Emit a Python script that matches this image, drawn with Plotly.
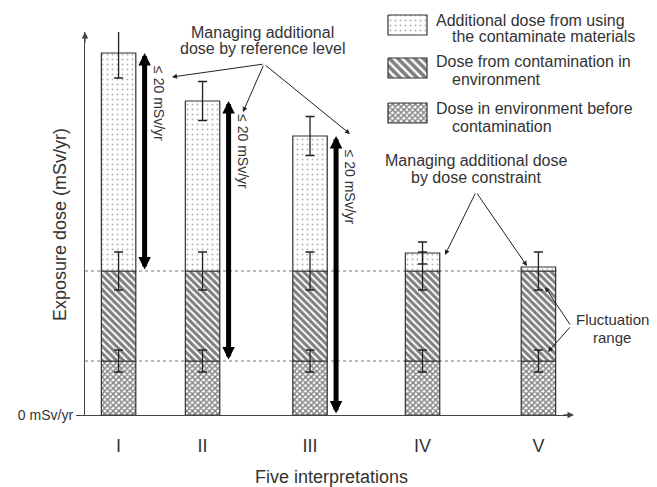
import plotly.graph_objects as go

# ---------------- data ----------------
categories = ["I", "II", "III", "IV", "V"]
x_positions = [0.4, 1.4, 2.68, 4.02, 5.4]
dose_before = [5.4, 5.4, 5.4, 5.4, 5.4]
dose_contamination = [9.0, 9.0, 9.0, 9.0, 9.0]
dose_additional = [21.8, 17.0, 13.5, 1.8, 0.4]
err_before = [1.1, 1.1, 1.1, 1.1, 1.1]
err_contamination = [1.9, 1.9, 1.9, 1.9, 1.9]
err_additional = [2.5, 1.95, 1.95, 1.1, 0]
series_names = [
    "Dose in environment before contamination",
    "Dose from contamination in environment",
    "Additional dose from using the contaminate materials",
]
limit_label = "≤ 20 mSv/yr"

# ---------------- styling ----------------
PAGE_W, PAGE_H = 657, 487
OFF = 8  # default page body margin
W, H = PAGE_W - OFF, PAGE_H - OFF
FONT = "Liberation Sans, Arial, sans-serif"
TXT = "#333333"
EDGE = "#333333"
BAR_W = 0.41

def px(x):
    return (x - OFF) / W

def py(y):
    return 1 - (y - OFF) / H

pat_before = dict(shape="x", fgcolor="#000000", bgcolor="white", size=4, solidity=0.6)
pat_contam = dict(shape="\\", fgcolor="#000000", bgcolor="white", size=5, solidity=0.6)
pat_add = dict(shape=".", fgcolor="#666666", bgcolor="white", size=5, solidity=0.12)
leg_contam = dict(shape="\\", fgcolor="#000000", bgcolor="white", size=6, solidity=0.6)

top_before = dose_before
top_contam = [a + b for a, b in zip(dose_before, dose_contamination)]
top_total = [a + b for a, b in zip(top_contam, dose_additional)]

fig = go.Figure()
for vals, base, pat, name in [
    (dose_before, None, pat_before, series_names[0]),
    (dose_contamination, top_before, pat_contam, series_names[1]),
    (dose_additional, top_contam, pat_add, series_names[2]),
]:
    fig.add_bar(
        x=x_positions, y=vals, base=base, width=BAR_W, name=name, showlegend=False,
        marker=dict(color="white", line=dict(color=EDGE, width=1.2), pattern=pat),
    )

# error bars (drawn above bars)
ebar = dict(type="data", color="#222222", thickness=1.3, width=4.5)
for tops, errs in [(top_before, err_before), (top_contam, err_contamination), (top_total, err_additional)]:
    xs = [x for x, e in zip(x_positions, errs) if e > 0]
    ys = [t for t, e in zip(tops, errs) if e > 0]
    es = [e for e in errs if e > 0]
    fig.add_scatter(x=xs, y=ys, mode="markers", marker=dict(size=1, color="rgba(0,0,0,0)"),
                    error_y=dict(array=es, **ebar), showlegend=False, hoverinfo="skip")

# dotted reference lines
for yv in [top_before[0], top_contam[0]]:
    fig.add_shape(type="line", xref="x", yref="y", x0=0, x1=5.63, y0=yv, y1=yv,
                  line=dict(color="#777777", width=1, dash="dot"), layer="below")

# legend swatches (overlay pixel axes)
swatches = [(15, 35, pat_add), (58, 78, leg_contam), (103, 123, pat_before)]
for y0, y1, pat in swatches:
    fig.add_scatter(x=[388, 427, 427, 388, 388], y=[y0, y0, y1, y1, y0], xaxis="x2", yaxis="y2",
                    mode="lines", fill="toself", fillcolor="white", fillpattern=pat,
                    line=dict(color=EDGE, width=1.2), showlegend=False, hoverinfo="skip")

annotations = []

def text(t, x, y, size=16, xanchor="center", angle=0):
    annotations.append(dict(text=t, x=px(x), y=py(y), xref="paper", yref="paper",
                            showarrow=False, xanchor=xanchor, yanchor="middle", textangle=angle,
                            font=dict(family=FONT, size=size, color=TXT)))

# legend text
text("Additional dose from using", 434, 20, xanchor="left")
text("the contaminate materials", 450, 37, xanchor="left")
text("Dose from contamination in", 434, 62, xanchor="left")
text("environment", 450, 79, xanchor="left")
text("Dose in environment before", 434, 108, xanchor="left")
text("contamination", 450, 126, xanchor="left")

# callout texts
text("Managing additional", 262, 32)
text("dose by reference level", 262, 48)
text("Managing additional dose", 476, 160)
text("by dose constraint", 476, 177)
text("Fluctuation", 612, 319, size=15)
text("range", 612, 337, size=15)

# axis titles
text("Exposure dose (mSv/yr)", 60, 225, size=18, angle=-90)
text("Five interpretations", 331, 477, size=18)

def pointer(x0, y0, x1, y1):
    annotations.append(dict(text="", x=px(x1), y=py(y1), xref="paper", yref="paper",
                            ax=x0 - x1, ay=y0 - y1, axref="pixel", ayref="pixel", showarrow=True,
                            arrowhead=2, arrowsize=1, arrowwidth=1, arrowcolor="#222222"))

for tx, ty in [(172, 77), (243, 112), (350, 134)]:
    pointer(264, 64, tx, ty)
for tx, ty in [(445, 255), (527, 266)]:
    pointer(476, 192, tx, ty)
for tx, ty in [(545, 287), (548, 352)]:
    pointer(571, 326, tx, ty)

# axis arrowheads
annotations.append(dict(text="", x=px(85), y=py(32), xref="paper", yref="paper", ax=0, ay=12,
                        showarrow=True, arrowhead=2, arrowsize=1, arrowwidth=1.3, arrowcolor="#444444"))
annotations.append(dict(text="", x=px(574), y=py(415), xref="paper", yref="paper", ax=-12, ay=0,
                        showarrow=True, arrowhead=2, arrowsize=1, arrowwidth=1.3, arrowcolor="#444444"))

# big double-headed arrows (reference level <= 20 mSv/yr) for I, II, III
arrow_bottoms = [top_contam[0], top_before[1], 0]
for i, bottom in enumerate(arrow_bottoms):
    xa = x_positions[i] + 0.31
    annotations.append(dict(text="", x=xa, y=top_total[i], ax=xa, ay=bottom, xref="x", yref="y",
                            axref="x", ayref="y", showarrow=True, arrowside="end+start",
                            arrowhead=2, startarrowhead=2, arrowsize=0.5, startarrowsize=0.5,
                            arrowwidth=5, arrowcolor="black"))
    annotations.append(dict(text=limit_label, x=x_positions[i] + 0.48, y=top_total[i] - 5.1,
                            xref="x", yref="y", showarrow=False, textangle=90,
                            font=dict(family=FONT, size=14, color=TXT)))

fig.update_layout(
    width=W, height=H, margin=dict(l=0, r=0, t=0, b=0, autoexpand=False),
    paper_bgcolor="white", plot_bgcolor="rgba(0,0,0,0)",
    font=dict(family=FONT, color=TXT), barmode="overlay", showlegend=False,
    annotations=annotations,
    xaxis=dict(domain=[px(85), px(572)], range=[0, 5.8], showline=True, linecolor="#444444",
               linewidth=1.3, tickvals=x_positions, ticktext=categories, ticks="outside",
               ticklen=14, tickcolor="rgba(0,0,0,0)", tickfont=dict(size=18, color=TXT),
               showgrid=False, zeroline=False, fixedrange=True, automargin=False),
    yaxis=dict(domain=[py(415), py(32)], range=[0, 38.3], showline=True, linecolor="#444444",
               linewidth=1.3, tickvals=[0], ticktext=["0 mSv/yr"], ticks="outside", ticklen=8,
               tickcolor="#444444", tickwidth=1.3, tickfont=dict(size=14, color=TXT),
               showgrid=False, zeroline=False, fixedrange=True, automargin=False),
    xaxis2=dict(domain=[0, 1], range=[OFF, PAGE_W], anchor="y2", visible=False, fixedrange=True,
                automargin=False),
    yaxis2=dict(domain=[0, 1], range=[PAGE_H, OFF], anchor="x2", visible=False, fixedrange=True,
                automargin=False),
)

fig.write_html("out.html")
